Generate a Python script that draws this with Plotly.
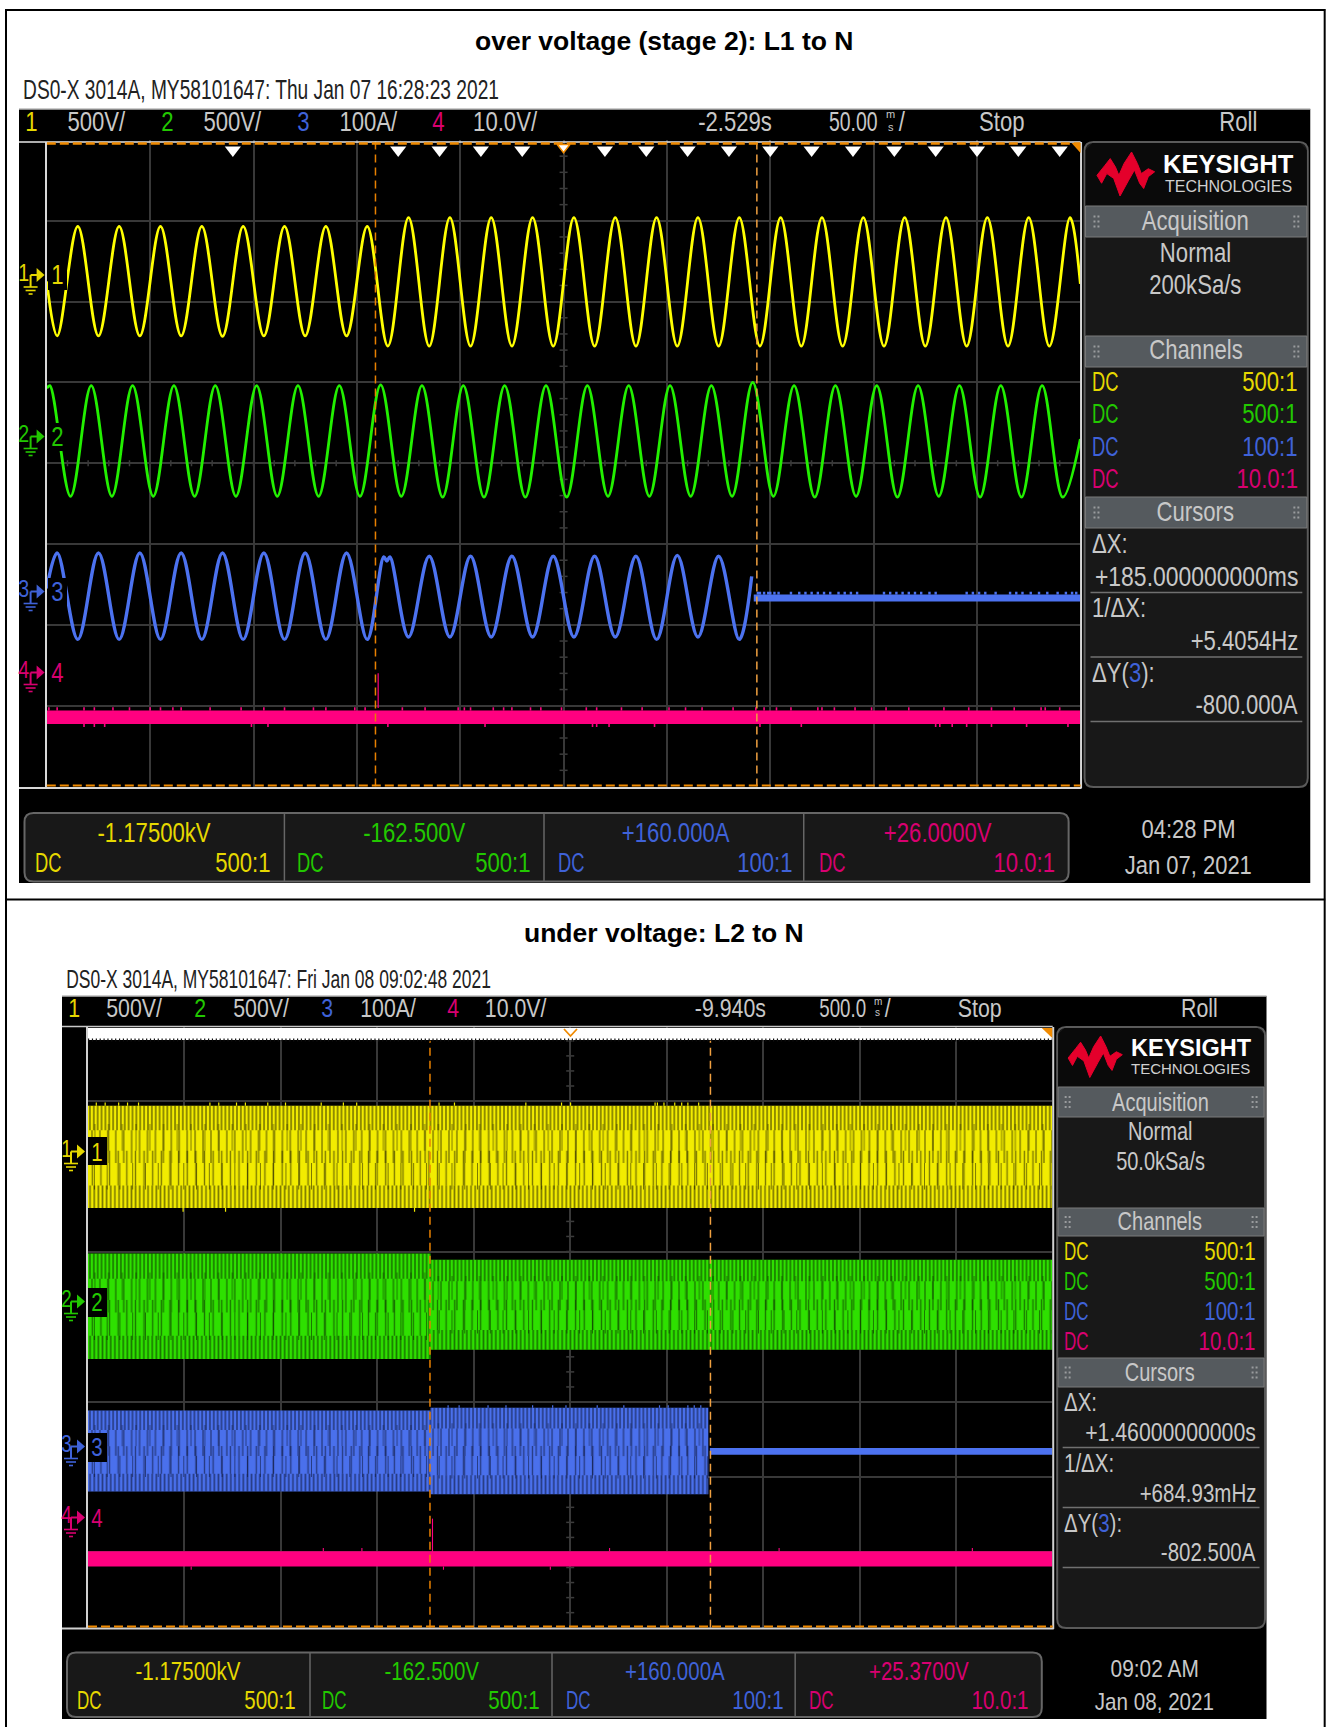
import plotly.graph_objects as go

W, H = 1329, 1727
FONT = "Liberation Sans"
YEL, GRN, BLU, PNK = "#FFFF00", "#22F000", "#4C72F0", "#FF0080"
TY, TG, TB, TP = "#E6D800", "#22C800", "#3F62D8", "#D80070"
GREY = "#C8C8C8"
ORANGE = "#F08A00"

# ---------- Scope 1 (ms from screen centre, divisions from screen centre) ----------
s1_ch1_t = [-250, -245, -235, -225, -215, -205, -195, -185, -175, -165, -155, -145, -135, -125, -115, -105, -95,
            -85, -75, -65, -55, -45, -35, -25, -15, -5, 5, 15, 25, 35, 45, 55, 65, 75, 85, 95, 105, 115, 125,
            135, 145, 155, 165, 175, 185, 195, 205, 215, 225, 235, 245, 250]
s1_ch1_v = [2.25, 1.575, 2.93, 1.575, 2.93, 1.575, 2.93, 1.575, 2.93, 1.57, 2.93, 1.575, 2.93, 1.575, 2.93, 1.575, 2.93,
            1.45, 3.04, 1.45, 3.04, 1.45, 3.04, 1.45, 3.04, 1.45, 3.04, 1.45, 3.04, 1.45, 3.04, 1.45, 3.04, 1.45, 3.04,
            1.45, 3.04, 1.45, 3.04, 1.45, 3.04, 1.45, 3.04, 1.45, 3.04, 1.45, 3.04, 1.45, 3.04, 1.45, 3.04, 2.22]
s1_ch2_t = [-250, -248.5, -238.5, -228.5, -218.5, -208.5, -198.5, -188.5, -178.5, -168.5, -158.5, -148.5, -138.5,
            -128.5, -118.5, -108.5, -98.5, -88.5, -78.5, -68.5, -58.5, -48.5, -38.5, -28.5, -18.5, -8.5, 1.5, 11.5,
            21.5, 31.5, 41.5, 51.5, 61.5, 71.5, 81.5, 91.5, 101.5, 111.5, 121.5, 131.5, 141.5, 151.5, 161.5, 171.5,
            181.5, 191.5, 201.5, 211.5, 221.5, 231.5, 241.5, 250]
s1_ch2_v = [0.93, 0.96, -0.41, 0.96, -0.41, 0.96, -0.41, 0.96, -0.41, 0.96, -0.41, 0.96, -0.41, 0.96, -0.41, 0.96,
            -0.41, 0.97, -0.41, 0.96, -0.42, 0.96, -0.42, 0.96, -0.42, 0.96, -0.42, 0.96, -0.41, 0.96, -0.41, 0.96,
            -0.41, 0.96, -0.41, 1.0, -0.41, 0.96, -0.42, 0.96, -0.41, 0.96, -0.42, 0.96, -0.41, 0.96, -0.42, 0.96,
            -0.42, 0.96, -0.42, 0.3]
s1_ch3_t = [-250, -245, -235, -225, -215, -205, -195, -185, -175, -165, -155, -145, -135, -125, -115, -105, -95,
            -87, -85.5, -84, -75, -65, -55, -45, -35, -25, -15, -5, 5, 15, 25, 35, 45, 55, 65, 75, 85, 91]
s1_ch3_v = [-1.55, -1.11, -2.18, -1.11, -2.18, -1.11, -2.18, -1.11, -2.18, -1.11, -2.18, -1.11, -2.18, -1.11, -2.18,
            -1.11, -2.18, -1.16, -1.21, -1.16, -2.15, -1.15, -2.15, -1.15, -2.15, -1.15, -2.15, -1.15, -2.15, -1.15,
            -2.15, -1.15, -2.18, -1.14, -2.15, -1.15, -2.18, -1.4]
s1_ch3_flat_t = [92, 250]
s1_ch3_flat_top = -1.625
s1_ch3_flat_bot = -1.711
s1_ch3_up_t = [94, 95, 97, 99, 100, 102, 104, 110, 114, 117, 120, 123, 126, 129, 133, 136, 139, 142, 155, 158, 161,
               164, 167, 170, 173, 177, 180, 195, 198, 201, 204, 209, 216, 219, 222, 226, 230, 234, 239, 243, 246, 248]
s1_ch3_up_v = -1.59
s1_ch4_top, s1_ch4_bot = -3.06, -3.227
s1_ch4_up_t = [-249, -245, -232, -227, -218, -210, -200, -195, -189, -185, -171, -156, -145, -135, -121, -115, -101,
               -96, -78, -67, -51, -48, -45, -34, -29, -25, -16, -11, -1, 11, 16, 28, 38, 51, 59, 67, 82, 93, 97, 103,
               110, 123, 125, 131, 141, 149, 156, 167, 184, 196, 207, 218, 231, 233, 240]
s1_ch4_dn_t = [-232, -227, -222, -151, -143, -85, -38, 14, 16, 22, 44, 95, 115, 180, 182, 188, 195, 207, 224, 244]
s1_ch4_up_v, s1_ch4_dn_v = -3.02, -3.264
s1_ch4_spike = (-89.7, -3.03, -2.6)
s1_cursors = [-91, 93.5]
s1_markers_t = [-160, -80, -60, -40, -20, 20, 40, 60, 80, 100, 120, 140, 160, 180, 200, 220, 240]

# ---------- Scope 2 (s from screen centre, divisions from screen centre) ----------
s2_ch1_t = [-2.5, 2.5]
s2_ch1_top = [2.939, 2.939]
s2_ch1_bot = [1.578, 1.578]
s2_ch1_up_t = [-2.457, -2.411, -2.341, -2.295, -2.238, -1.868, -1.822, -1.73, -1.684, -1.568, -1.476, -1.291, -1.176,
               -1.107, -0.68, -0.6, -0.23, -0.045, 0.002, 0.44, 0.452, 0.486, 0.542, 0.578, 0.61, 0.666]
s2_ch1_dn_t = [-2.007, -1.787, -0.807]
s2_ch1_up_v, s2_ch1_dn_v = 2.98, 1.53
s2_ch2_t = [-2.5, -0.724, -0.724, 2.5]
s2_ch2_top = [0.975, 0.975, 0.891, 0.891]
s2_ch2_bot = [-0.43, -0.43, -0.306, -0.306]
s2_ch3_t = [-2.5, -0.724, -0.724, 0.716]
s2_ch3_top = [-1.113, -1.113, -1.077, -1.077]
s2_ch3_bot = [-2.19, -2.19, -2.225, -2.225]
s2_ch3_up_t = [-0.633, -0.576, -0.426, -0.333, -0.195, -0.091, -0.022, 0.14, 0.278, 0.463, 0.508, 0.61, 0.643, 0.677]
s2_ch3_up_v = -1.044
s2_ch3_flat_t = [0.724, 2.5]
s2_ch3_flat_top, s2_ch3_flat_bot = -1.612, -1.702
s2_ch4_top, s2_ch4_bot = -2.985, -3.188
s2_ch4_up_t = [-1.28, -1.08, 0.204, 1.083, 2.085]
s2_ch4_dn_t = [-1.965, -0.657, -0.103]
s2_ch4_up_v, s2_ch4_dn_v = -2.94, -3.23
s2_ch4_spike = (-0.714, -2.99, -2.55)
s2_cursors = [-0.727, 0.727]

# ---------- page geometry helpers ----------
PX = lambda x: (x if x < 650 else 650 + (x - 650) * 0.99437) / W
PY = lambda y: 1 - y / H
shapes, anns = [], []


def rect(x0, y0, x1, y1, fill, line=None, lw=0, layer="below"):
    shapes.append(dict(type="rect", xref="paper", yref="paper", x0=PX(x0), x1=PX(x1), y0=PY(y0), y1=PY(y1),
                       fillcolor=fill, line=dict(color=line or fill, width=lw), layer=layer))


def hv(x0, y0, x1, y1, color, lw=1, dash="solid", layer="below"):
    shapes.append(dict(type="line", xref="paper", yref="paper", x0=PX(x0), x1=PX(x1), y0=PY(y0), y1=PY(y1),
                       line=dict(color=color, width=lw, dash=dash), layer=layer))


def path(pts, fill=None, line=None, lw=0, layer="above", close=True):
    d = "M" + " L".join(f"{PX(x):.6f},{PY(y):.6f}" for x, y in pts) + (" Z" if close else "")
    shapes.append(dict(type="path", xref="paper", yref="paper", path=d, fillcolor=fill or "rgba(0,0,0,0)",
                       line=dict(color=line or "rgba(0,0,0,0)", width=lw), layer=layer))


def rrect(x0, y0, x1, y1, fill, line, lw=2, r=9):
    a, b, c, d = PX(x0), PY(y0), PX(x1), PY(y1)
    rx, ry = r / W, r / H
    p = (f"M{a + rx},{b} L{c - rx},{b} Q{c},{b} {c},{b - ry} L{c},{d + ry} Q{c},{d} {c - rx},{d} "
         f"L{a + rx},{d} Q{a},{d} {a},{d + ry} L{a},{b - ry} Q{a},{b} {a + rx},{b} Z")
    shapes.append(dict(type="path", xref="paper", yref="paper", path=p, fillcolor=fill,
                       line=dict(color=line, width=lw), layer="below"))


def txt(x, y, s, color=GREY, size=27, anchor="center", font=FONT, bold=False, sx=0.82):
    if bold:
        s = f"<b>{s}</b>"
    anns.append(dict(xref="paper", yref="paper", x=PX(x), y=PY(y), text=s, showarrow=False, xanchor=anchor,
                     yanchor="middle", borderpad=0, name=str(sx), font=dict(family=font, size=size, color=color)))


LOGO = [(0, .53), (.14, .30), (.23, .15), (.32, .34), (.38, .53), (.47, .26), (.60, 0), (.70, .26), (.77, .49),
        (.89, .38), (1, .45), (.89, .56), (.81, .83), (.74, .71), (.65, .41), (.55, .64), (.40, 1.0), (.29, .60),
        (.17, .49), (.08, .71)]


def logo(x0, y0, x1, y1):
    path([(x0 + (x1 - x0) * a, y0 + (y1 - y0) * b) for a, b in LOGO], fill="#E4002B", line="#E4002B", lw=1)


def grip(x, y):
    for i in (0, 1):
        for j in (-1, 0, 1):
            rect(x + i * 4, y + j * 5 - 1, x + i * 4 + 2, y + j * 5 + 1, "#9A9C9E")


def ground(tip, y, color):
    stem = tip - 14
    hv(stem, y, tip - 7, y, color, 2, layer="above")
    hv(stem, y, stem, y + 12, color, 2, layer="above")
    path([(tip - 8, y - 7), (tip, y), (tip - 8, y + 7)], fill=color)
    for k, half in enumerate((7, 5, 2)):
        hv(stem - half, y + 12 + k * 3.5, stem + half, y + 12 + k * 3.5, color, 1.6, layer="above")


def scope(cfg):
    x0, x1, y0, y1 = cfg["outer"]
    rect(x0, y0, x1, y1, "#000000")
    hv(x0, y0, x1, y0, "#BBBBBB", 1.5)
    pl, pr, pt, pb = cfg["plot"]
    pr_ = 650 + (pr - 650) * 0.99437
    cx, cy = (pl + pr_) / 2, (pt + pb) / 2
    dx, dy = (pr_ - pl) / 10, (pb - pt) / 8
    for i in range(1, 40):
        t = pt + i * dy / 5
        shapes.append(dict(type="line", xref="paper", yref="paper", x0=(cx - 4) / W, x1=(cx + 4) / W, y0=PY(t), y1=PY(t),
                           line=dict(color="#3C3C3C", width=1.5), layer="below"))
    for i in range(1, 50):
        t = pl + i * dx / 5
        shapes.append(dict(type="line", xref="paper", yref="paper", x0=t / W, x1=t / W, y0=PY(cy - 3), y1=PY(cy + 3),
                           line=dict(color="#3C3C3C", width=1.5), layer="below"))


fig = go.Figure()

# ---------- page frame ----------
rect(0, 0, W, H, "#FFFFFF")
hv(5, 10, 1329, 10, "#000000", 2)
hv(6, 9, 6, H, "#000000", 2)
hv(1328.5, 9, 1328.5, H, "#000000", 2)
hv(5, 899.5, 1329, 899.5, "#000000", 2)
txt(664.5, 41, "over voltage (stage 2): L1 to N", "#000000", 26.5, bold=True, sx=1)
txt(664.5, 932.5, "under voltage: L2 to N", "#000000", 26.5, bold=True, sx=1)
txt(22, 90, "DS0-X 3014A, MY58101647: Thu Jan 07 16:28:23 2021", "#222222", 27, "left", sx=0.71)
txt(65, 979, "DS0-X 3014A, MY58101647: Fri Jan 08 09:02:48 2021", "#222222", 25, "left", sx=0.70)

# ---------- Scope 1 furniture ----------
P1 = (46.8, 1082.8, 140.0, 786.5)
scope(dict(outer=(19, 1314, 109, 883), plot=P1))
for x, s, c in [(31, "1", TY), (96.6, "500V/", GREY), (167.4, "2", TG), (232.6, "500V/", GREY), (303, "3", TB),
                (368, "100A/", GREY), (438, "4", TP), (505, "10.0V/", GREY), (735.4, "-2.529s", GREY),
                (1004, "Stop", GREY), (1242, "Roll", GREY)]:
    txt(x, 122, s, c)
txt(880, 122, "50.00", GREY, 27, "right", sx=0.72)
txt(892, 114, "m", GREY, 11, sx=1)
txt(892, 127, "s", GREY, 11, sx=1)
txt(903, 122, "/", GREY, 27)

rrect(1087, 142, 1311.5, 787, "#181818", "#5A5A5A")
path([(1088, 206), (1088, 150), (1095, 143), (1304, 143), (1310.5, 150), (1310.5, 206)], fill="#0A0A0A", layer="below")
for a, b in [(206, 237), (336, 367), (497, 528)]:
    rect(1088, a, 1310.5, b, "#555A5E", "#7A7A7A", 1)
    grip(1096, (a + b) / 2)
    grip(1297, (a + b) / 2)
logo(1099.5, 152, 1157.5, 196)
txt(1232, 164, "KEYSIGHT", "#FFFFFF", 25.5, bold=True, sx=1)
txt(1232, 186, "TECHNOLOGIES", "#D0D0D0", 16, sx=1)
for y, s in [(221.5, "Acquisition"), (253, "Normal"), (285, "200kSa/s"), (350, "Channels"), (511.5, "Cursors")]:
    txt(1199, y, s)
for y, s, c in [(381.5, "500:1", TY), (414, "500:1", TG), (446.5, "100:1", TB), (479, "10.0:1", TP)]:
    txt(1093.5, y, "DC", c, anchor="left", sx=0.68)
    txt(1302.5, y, s, c, anchor="right")
txt(1093, 544, "ΔX:", anchor="left")
txt(1302.5, 576.5, "+185.000000000ms", anchor="right", sx=0.85)
txt(1093, 608, "1/ΔX:", anchor="left")
txt(1302.5, 640.5, "+5.4054Hz", anchor="right")
txt(1093, 673, f"ΔY(<span style='color:{TB}'>3</span>):", anchor="left")
txt(1302.5, 705, "-800.000A", anchor="right")
for y in (592.5, 657, 721.5):
    hv(1093, y, 1306, y, "#707070", 1.5)

rrect(24.5, 813, 1071, 881.5, "#181818", "#666666")
for x in (284.4, 544, 804.6):
    hv(x, 813, x, 881.5, "#666666", 1.5)
for cx_, s, dcx, rx, r, c in [(154, "-1.17500kV", 34, 271.5, "500:1", TY), (414.5, "-162.500V", 295.5, 532, "500:1", TG),
                              (675.5, "+160.000A", 557, 794.5, "100:1", TB), (939.5, "+26.0000V", 819, 1058, "10.0:1", TP)]:
    txt(cx_, 833, s, c)
    txt(dcx, 863, "DC", c, anchor="left", sx=0.68)
    txt(rx, 863, r, c, anchor="right")
txt(1192, 829, "04:28 PM", size=25, sx=0.88)
txt(1192, 865, "Jan 07, 2021", size=25, sx=0.88)

# ---------- Scope 2 furniture ----------
P2 = (88.0, 1054.7, 1025.8, 1627.7)
scope(dict(outer=(62, 1270, 996, 1719), plot=P2))
for x, s, c in [(73.7, "1", TY), (134.6, "500V/", GREY), (200, "2", TG), (261, "500V/", GREY), (327, "3", TB),
                (388, "100A/", GREY), (453, "4", TP), (515.6, "10.0V/", GREY), (730.6, "-9.940s", GREY),
                (982, "Stop", GREY), (1203, "Roll", GREY)]:
    txt(x, 1008, s, c, 26)
txt(868, 1008, "500.0", GREY, 26, "right", sx=0.72)
txt(879, 1001, "m", GREY, 10, sx=1)
txt(879, 1013, "s", GREY, 10, sx=1)
txt(889, 1008, "/", GREY, 26)

rrect(1059.5, 1027, 1268.5, 1628, "#181818", "#5A5A5A")
path([(1060.5, 1087), (1060.5, 1034), (1067, 1028), (1261, 1028), (1267.5, 1034), (1267.5, 1087)], fill="#0A0A0A", layer="below")
for a, b in [(1087, 1117), (1208, 1236), (1358, 1387)]:
    rect(1060.5, a, 1267.5, b, "#555A5E", "#7A7A7A", 1)
    grip(1067, (a + b) / 2)
    grip(1255, (a + b) / 2)
logo(1070.5, 1036, 1125, 1077.5)
txt(1194.5, 1048, "KEYSIGHT", "#FFFFFF", 23.5, bold=True, sx=1)
txt(1194, 1068, "TECHNOLOGIES", "#D0D0D0", 15, sx=1)
for y, s in [(1101.5, "Acquisition"), (1130.5, "Normal"), (1160.5, "50.0kSa/s"), (1221, "Channels"), (1371.5, "Cursors")]:
    txt(1163, y, s, size=25, sx=0.8)
for y, s, c in [(1250.5, "500:1", TY), (1280.5, "500:1", TG), (1310.5, "100:1", TB), (1341, "10.0:1", TP)]:
    txt(1065, y, "DC", c, 25, "left", sx=0.68)
    txt(1260.5, y, s, c, 25, "right")
txt(1065, 1402, "ΔX:", size=25, anchor="left")
txt(1260.5, 1432, "+1.46000000000s", size=25, anchor="right", sx=0.85)
txt(1065, 1463, "1/ΔX:", size=25, anchor="left")
txt(1260.5, 1493, "+684.93mHz", size=25, anchor="right")
txt(1065, 1522.5, f"ΔY(<span style='color:{TB}'>3</span>):", size=25, anchor="left")
txt(1260.5, 1552, "-802.500A", size=25, anchor="right")
for y in (1447.5, 1507.5, 1567.5):
    hv(1065, y, 1263, y, "#707070", 1.5)

rrect(67, 1652.5, 1044, 1717, "#181818", "#666666")
for x in (310, 552, 796):
    hv(x, 1652.5, x, 1717, "#666666", 1.5)
for cx_, s, dcx, rx, r, c in [(188, "-1.17500kV", 76, 297, "500:1", TY), (431.5, "-162.500V", 320.5, 541, "500:1", TG),
                              (675, "+160.000A", 564.5, 786, "100:1", TB), (921, "+25.3700V", 809, 1032, "10.0:1", TP)]:
    txt(cx_, 1671, s, c, 25)
    txt(dcx, 1699.5, "DC", c, 25, "left", sx=0.68)
    txt(rx, 1699.5, r, c, 25, "right")
txt(1157.5, 1668, "09:02 AM", size=24, sx=0.87)
txt(1157.5, 1701.5, "Jan 08, 2021", size=24, sx=0.86)

# ---------- traces ----------


def ax(i, P, xr, dtick):
    l, r, t, b = P
    s = "" if i == 1 else str(i)
    common = dict(showgrid=True, gridcolor="#383838", gridwidth=1.5, zeroline=False, showticklabels=False,
                  ticks="", showline=False, fixedrange=True)
    fig.update_layout({
        f"xaxis{s}": dict(domain=[PX(l), PX(r)], range=xr, dtick=dtick, tick0=xr[0], anchor=f"y{s}", **common),
        f"yaxis{s}": dict(domain=[PY(b), PY(t)], range=[-4, 4], dtick=1, tick0=-4, anchor=f"x{s}", **common)})


ax(1, P1, [-250, 250], 50)
ax(2, P2, [-2.5, 2.5], 0.5)


def line(xa, x, y, color, w=2, shape="linear", dash=None, smooth=None):
    ln = dict(color=color, width=w, shape=shape)
    if dash:
        ln["dash"] = dash
    if smooth:
        ln["smoothing"] = smooth
    fig.add_trace(go.Scatter(x=x, y=y, mode="lines", line=ln, xaxis=f"x{xa}", yaxis=f"y{xa}", hoverinfo="skip",
                             showlegend=False, connectgaps=False))


def band(xa, x, top, bot, color, pattern=None):
    kw = dict(fillpattern=pattern, fillcolor="rgba(0,0,0,0)") if pattern else dict(fillcolor=color)
    fig.add_trace(go.Scatter(x=list(x) + list(x)[::-1], y=list(top) + list(bot)[::-1], mode="lines", fill="toself",
                             line=dict(width=0, color=color), xaxis=f"x{xa}", yaxis=f"y{xa}", hoverinfo="skip",
                             showlegend=False, **kw))


def ticks(xa, ts, a, b, color, w=1.6):
    xs, ys = [], []
    for t in ts:
        xs += [t, t, None]
        ys += [a, b, None]
    line(xa, xs, ys, color, w)


def textured(xa, x, top, bot, color, dark, pitch):
    band(xa, x, top, bot, color)
    layers = [(0.0, 0.24, pitch, 0.42), (0.24, 0.56, pitch * 2.05, 0.17), (0.56, 0.82, pitch * 3.3, 0.08),
              (1.0, 0.78, pitch * 1.07, 0.40), (0.78, 0.44, pitch * 2.23, 0.16), (0.44, 0.18, pitch * 3.55, 0.07)]
    for f0, f1, p, sol in layers:
        t2 = [a + (b - a) * f0 for a, b in zip(top, bot)]
        b2 = [a + (b - a) * f1 for a, b in zip(top, bot)]
        band(xa, x, t2, b2, color, dict(shape="|", size=p, solidity=sol, fgcolor=dark, bgcolor="rgba(0,0,0,0)", fillmode="overlay"))


# scope 1
line(1, s1_ch1_t, s1_ch1_v, YEL, 2.8, "spline", smooth=1.0)
line(1, s1_ch2_t, s1_ch2_v, GRN, 2.8, "spline", smooth=1.0)
line(1, s1_ch3_t, s1_ch3_v, BLU, 3.4, "spline", smooth=1.0)
band(1, s1_ch3_flat_t, [s1_ch3_flat_top] * 2, [s1_ch3_flat_bot] * 2, BLU)
ticks(1, s1_ch3_up_t, s1_ch3_flat_top, s1_ch3_up_v, BLU, 2.4)
band(1, [-250, 250], [s1_ch4_top] * 2, [s1_ch4_bot] * 2, PNK)
ticks(1, s1_ch4_up_t, s1_ch4_top, s1_ch4_up_v, PNK)
ticks(1, s1_ch4_dn_t, s1_ch4_bot, s1_ch4_dn_v, PNK)
ticks(1, [s1_ch4_spike[0]], s1_ch4_spike[1], s1_ch4_spike[2], PNK, 1.2)

# scope 2
textured(2, s2_ch1_t, s2_ch1_top, s2_ch1_bot, "#F2EC00", "#050500", 3.87)
ticks(2, s2_ch1_up_t, s2_ch1_top[0], s2_ch1_up_v, "#F2EC00", 1.2)
ticks(2, s2_ch1_dn_t, s2_ch1_bot[0], s2_ch1_dn_v, "#F2EC00", 1.2)
textured(2, s2_ch2_t, s2_ch2_top, s2_ch2_bot, "#2EE000", "#031000", 3.87)
textured(2, s2_ch3_t, s2_ch3_top, s2_ch3_bot, "#4A70EC", "#04081C", 3.87)
ticks(2, s2_ch3_up_t, s2_ch3_top[-1], s2_ch3_up_v, "#4A70EC", 1.2)
band(2, s2_ch3_flat_t, [s2_ch3_flat_top] * 2, [s2_ch3_flat_bot] * 2, BLU)
band(2, [-2.5, 2.5], [s2_ch4_top] * 2, [s2_ch4_bot] * 2, PNK)
ticks(2, s2_ch4_up_t, s2_ch4_top, s2_ch4_up_v, PNK, 1.1)
ticks(2, s2_ch4_dn_t, s2_ch4_bot, s2_ch4_dn_v, PNK, 1.1)
ticks(2, [s2_ch4_spike[0]], s2_ch4_spike[1], s2_ch4_spike[2], PNK, 1.1)

# cursors
line(1, [s1_cursors[0]] * 2, [-4, 4], "#E88000", 1.5, dash="8px,5px")
line(1, [s1_cursors[1]] * 2, [-4, 4], "#F0A040", 1.5, dash="8px,5px")
line(2, [s2_cursors[0]] * 2, [-4, 3.8], "#E88000", 1.5, dash="8px,5px")
line(2, [s2_cursors[1]] * 2, [-4, 3.8], "#F0A040", 1.5, dash="8px,5px")

# digital-trigger markers
fig.add_trace(go.Scatter(x=s1_markers_t, y=[3.877] * len(s1_markers_t), mode="markers", cliponaxis=False, hoverinfo="skip",
                         marker=dict(symbol="triangle-down", size=14, color="#FFFFFF", line=dict(width=0)),
                         xaxis="x", yaxis="y", showlegend=False))
fig.add_trace(go.Scatter(x=[0], y=[3.91], mode="markers", cliponaxis=False, hoverinfo="skip",
                         marker=dict(symbol="triangle-down", size=11, color="#FFFFFF", line=dict(width=1.5, color=ORANGE)),
                         xaxis="x", yaxis="y", showlegend=False))

# ---------- chrome above traces ----------
# scope 1 frame
hv(19, 142, 1083, 142, "#E8E8E8", 1.5, layer="above")
hv(46.8, 143.5, 1083, 143.5, ORANGE, 2.5, "9px,4px", layer="above")
hv(46, 142, 46, 787, "#D8D8D8", 2, layer="above")
hv(1083.5, 142, 1083.5, 788, "#D8D8D8", 2, layer="above")
hv(19, 788, 1084, 788, "#D8D8D8", 2, layer="above")
hv(46.8, 785.5, 1083, 785.5, ORANGE, 2, "9px,4px", layer="above")
path([(1074, 143), (1083, 143), (1083, 153)], fill=ORANGE)
for y0_, y1_ in [(263, 290), (423, 451), (578, 606)]:
    rect(48, y0_, 67, y1_, "#000000", layer="above")
for y, c, s in [(275, TY, "1"), (436.5, TG, "2"), (591.5, TB, "3"), (672.5, TP, "4")]:
    ground(44.6, y, c)
    txt(23.5, y - 3, s, c, 24)
    txt(57, y, s, c, 27)

# scope 2 frame
rect(88, 1028, 1054.7, 1040, "#FFFFFF", layer="above")
hv(88, 1040, 1054.7, 1040, "#101010", 3, "1.2px,2.67px", layer="above")
hv(62, 1026.5, 1055, 1026.5, "#C8C8C8", 1.5, layer="above")
hv(87, 1027, 87, 1628, "#D0D0D0", 2, layer="above")
hv(1055.5, 1027, 1055.5, 1629, "#D0D0D0", 2, layer="above")
hv(62, 1628.5, 1056, 1628.5, "#D0D0D0", 2, layer="above")
hv(88, 1626.5, 1055, 1626.5, ORANGE, 2, "9px,4px", layer="above")
path([(564, 1029), (570.5, 1036), (577, 1029)], line=ORANGE, lw=1.8, close=False)
path([(1044, 1028), (1054.5, 1028), (1054.5, 1038)], fill=ORANGE)
for y0_, y1_ in [(1137, 1165), (1288, 1317), (1433, 1462)]:
    rect(88, y0_, 107, y1_, "#000000", layer="above")
for y, c, s in [(1151.5, TY, "1"), (1301.5, TG, "2"), (1446.5, TB, "3"), (1517.5, TP, "4")]:
    ground(85, y, c)
    txt(66, y - 3, s, c, 23)
    txt(97, y, s, c, 25)

fig.update_layout(width=W, height=H, margin=dict(l=0, r=0, t=0, b=0), autosize=False, paper_bgcolor="#FFFFFF",
                  plot_bgcolor="rgba(0,0,0,0)", showlegend=False, shapes=shapes, annotations=anns, hovermode=False,
                  dragmode=False)

POST = """
document.body.style.margin='0';document.body.style.background='#fff';
var gd=document.getElementById('{plot_id}');
var A=gd.layout.annotations;
gd.querySelectorAll('g.annotation').forEach(function(g){
  var i=+g.getAttribute('data-index'),a=A[i],sx=parseFloat(a.name||'1');
  if(sx===1)return;
  var t=g.querySelector('text');if(!t)return;
  var b=t.getBBox();
  var p=a.xanchor==='left'?b.x:(a.xanchor==='right'?b.x+b.width:b.x+b.width/2);
  t.setAttribute('transform','translate('+p+' 0) scale('+sx+' 1) translate('+(-p)+' 0)');
});
"""
fig.write_html("out.html", config=dict(displayModeBar=False), post_script=POST)
